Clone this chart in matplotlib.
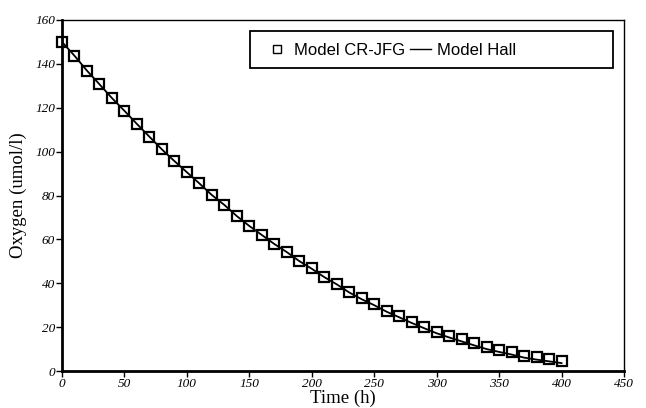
import matplotlib
matplotlib.use("Agg")
import matplotlib.pyplot as plt
from matplotlib.patches import Rectangle

time_h = [0, 10, 20, 30, 40, 50, 60, 70, 80, 90, 100, 110, 120, 130, 140, 150, 160,
          170, 180, 190, 200, 210, 220, 230, 240, 250, 260, 270, 280, 290, 300, 310,
          320, 330, 340, 350, 360, 370, 380, 390, 400]
model_crjfg = [150, 143.7, 136.9, 130.7, 124.4, 118.6, 112.6, 106.8, 101.0, 95.7, 90.6,
               85.5, 80.2, 75.7, 70.6, 66.1, 62.0, 57.9, 54.4, 50.1, 46.8, 43.0, 39.8,
               36.1, 33.1, 30.5, 27.5, 25.1, 22.5, 20.2, 17.9, 16.1, 14.4, 12.6, 10.8,
               9.6, 8.5, 7.0, 6.2, 5.5, 4.7]
model_hall = [150, 143.7, 136.9, 130.7, 124.4, 118.6, 112.6, 106.8, 101.0, 95.7, 90.6,
              85.5, 80.2, 75.7, 70.6, 66.1, 62.0, 57.9, 54.2, 50.1, 46.6, 42.8, 39.5,
              35.8, 32.7, 30.0, 27.0, 24.5, 21.9, 19.5, 17.2, 15.3, 13.5, 11.7, 10.0,
              8.7, 7.5, 6.1, 5.2, 4.4, 3.6]
x_ticks = [0, 50, 100, 150, 200, 250, 300, 350, 400, 450]
y_ticks = [0, 20, 40, 60, 80, 100, 120, 140, 160]

fig = plt.figure(figsize=(6.46, 4.08), dpi=100)
ax = fig.add_axes([62/646, 37/408, 562/646, 351/408])

ax.plot(time_h, model_crjfg, linestyle='none', marker='s', markersize=7.5,
        markerfacecolor='white', markeredgecolor='black', markeredgewidth=1.6,
        label='Model CR-JFG', zorder=2, clip_on=False)
ax.plot(time_h, model_hall, color='black', linewidth=1.3, label='Model Hall', zorder=3)

ax.set_xlim(0, 450)
ax.set_ylim(0, 160)
ax.set_xticks(x_ticks)
ax.set_yticks(y_ticks)
tick_font = dict(family='Liberation Serif', style='italic', size=9.5)
ax.set_xticklabels([str(v) for v in x_ticks], fontdict=tick_font)
ax.set_yticklabels([str(v) for v in y_ticks], fontdict=tick_font)
ax.tick_params(direction='out', length=4, width=1, pad=1, colors='black')

for side in ['left', 'bottom']:
    ax.spines[side].set_linewidth(2.0)
for side in ['top', 'right']:
    ax.spines[side].set_linewidth(1.0)

ax.set_xlabel('Time (h)', family='Liberation Serif', size=13.5, labelpad=0)
ax.set_ylabel('Oxygen (umol/l)', family='Liberation Serif', size=13.5, labelpad=6)

# legend box
ax.add_patch(Rectangle((0.3345, 0.8632), 0.6455, 0.1055, transform=ax.transAxes,
                       facecolor='white', edgecolor='black', linewidth=1.3, zorder=4))
leg = ax.legend(ncol=2, loc='center left', bbox_to_anchor=(0.363, 0.913),
                prop={'family': 'Liberation Sans', 'size': 12},
                frameon=False, borderpad=0, borderaxespad=0,
                handlelength=1.3, handletextpad=0.35, columnspacing=0.3,
                markerscale=0.8)
leg.set_zorder(5)
leg.legend_handles[0].set_markeredgewidth(1.0)
leg.legend_handles[1].set_linewidth(1.0)

fig.savefig('out.png', dpi=100)
